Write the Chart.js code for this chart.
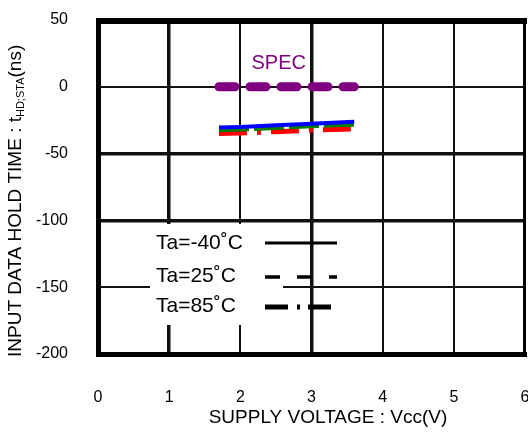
<!DOCTYPE html>
<html>
<head>
<meta charset="utf-8">
<script src="https://cdn.jsdelivr.net/npm/chart.js@4"></script>
<style>
  html, body { margin: 0; padding: 0; background: #fff; }
</style>
</head>
<body>
<canvas id="holdChart" width="528" height="434"></canvas>
<script>
// Podaci ocitani sa slike
const vcc = [1.7, 2.0, 2.5, 3.0, 3.3, 3.6];
const holdMinus40 = [-30.5, -30, -28.8, -27.6, -27, -26.2];
const hold25 = [-32.5, -32, -30.8, -29.6, -28.8, -28.4];
const hold85 = [-35, -34.6, -33.6, -32.4, -32, -31.6];
const specVcc = [1.7, 3.6];
const specLimit = [0, 0];
const xTicks = [0, 1, 2, 3, 4, 5, 6];
const yTicks = [50, 0, -50, -100, -150, -200];
const legendLabels = ["Ta=-40\u02DAC", "Ta=25\u02DAC", "Ta=85\u02DAC"];

const FONT = "'Liberation Sans', Arial, sans-serif";

function toPoints(xs, ys) {
  return xs.map((x, i) => ({ x: x, y: ys[i] }));
}

// Okvir, legenda, naslovi osi i SPEC oznaka
const decorPlugin = {
  id: "decor",
  beforeDatasetsDraw(chart) {
    const ctx = chart.ctx;
    const a = chart.chartArea;
    ctx.save();
    // bijela podloga legende preko mreze
    ctx.fillStyle = "#fff";
    ctx.fillRect(150, 224, 133, 101);
    // okvir
    ctx.fillStyle = "#000";
    ctx.fillRect(a.left - 2, a.top - 2, 5, a.bottom - a.top + 5);
    ctx.fillRect(a.left - 2, a.top - 2, a.right - a.left + 4, 6);
    ctx.fillRect(a.left - 2, a.bottom - 2, a.right - a.left + 4, 5);
    ctx.fillRect(a.right - 2, a.top - 2, 3, a.bottom - a.top + 5);
    ctx.restore();
  },
  afterDatasetsDraw(chart) {
    const ctx = chart.ctx;
    const xs = chart.scales.x;
    const ys = chart.scales.y;
    ctx.save();

    // SPEC
    ctx.fillStyle = "#800080";
    ctx.font = "20px " + FONT;
    ctx.textAlign = "center";
    ctx.textBaseline = "middle";
    ctx.fillText("SPEC", xs.getPixelForValue(2.54), ys.getPixelForValue(0) - 23);

    // legenda
    ctx.fillStyle = "#000";
    ctx.font = "21px " + FONT;
    ctx.textAlign = "left";
    const rowsY = [243, 276, 306];
    legendLabels.forEach((t, i) => ctx.fillText(t, 156, rowsY[i]));
    const samples = [
      { y: 243, w: 3, dash: [], x2: 337 },
      { y: 277, w: 3.5, dash: [15, 17], x2: 337 },
      { y: 307, w: 5, dash: [23, 9, 3, 8], x2: 332 },
    ];
    ctx.strokeStyle = "#000";
    samples.forEach((s) => {
      ctx.lineWidth = s.w;
      ctx.setLineDash(s.dash);
      ctx.beginPath();
      ctx.moveTo(265, s.y);
      ctx.lineTo(s.x2, s.y);
      ctx.stroke();
    });
    ctx.setLineDash([]);

    // naslov x osi
    ctx.font = "19px " + FONT;
    ctx.textAlign = "center";
    ctx.fillText("SUPPLY VOLTAGE : Vcc(V)", 328, 418);

    // naslov y osi s indeksom
    ctx.translate(16, 357);
    ctx.rotate(-Math.PI / 2);
    ctx.textAlign = "left";
    ctx.font = "19px " + FONT;
    const main = "INPUT DATA HOLD TIME : t";
    ctx.fillText(main, 0, 0);
    let off = ctx.measureText(main).width;
    ctx.font = "11px " + FONT;
    ctx.fillText("HD;STA", off, 5);
    off += ctx.measureText("HD;STA").width;
    ctx.font = "19px " + FONT;
    ctx.fillText("(ns)", off, 0);
    ctx.restore();
  },
};

const ctx = document.getElementById("holdChart").getContext("2d");
const holdChart = new Chart(ctx, {
  type: "line",
  data: {
    datasets: [
      {
        label: legendLabels[0],
        data: toPoints(vcc, holdMinus40),
        borderColor: "#0000ff",
        borderWidth: 4,
        pointRadius: 0,
      },
      {
        label: legendLabels[1],
        data: toPoints(vcc, hold25),
        borderColor: "#008000",
        borderWidth: 4,
        borderDash: [30, 5],
        pointRadius: 0,
      },
      {
        label: legendLabels[2],
        data: toPoints(vcc, hold85),
        borderColor: "#ff0000",
        borderWidth: 5,
        borderDash: [28, 10, 4, 10],
        pointRadius: 0,
      },
      {
        label: "SPEC",
        data: toPoints(specVcc, specLimit),
        borderColor: "#800080",
        borderWidth: 9,
        borderDash: [16, 15],
        borderCapStyle: "round",
        pointRadius: 0,
      },
    ],
  },
  options: {
    responsive: false,
    devicePixelRatio: 1,
    animation: false,
    layout: { padding: { top: 20, right: 3, left: 0, bottom: 0 } },
    plugins: { legend: { display: false }, tooltip: { enabled: false } },
    scales: {
      x: {
        type: "linear",
        min: 0,
        max: 6,
        afterBuildTicks: (s) => { s.ticks = xTicks.map((v) => ({ value: v })); },
        afterFit: (s) => { s.height = 80; s.paddingLeft = 0; s.paddingRight = 0; },
        border: { display: false },
        grid: {
          drawTicks: false,
          color: "#111",
          lineWidth: (c) => (c.tick && (c.tick.value === 1 || c.tick.value === 3) ? 3.5 : 2),
        },
        ticks: { padding: 34, color: "#000", font: { family: FONT, size: 16 }, maxRotation: 0 },
      },
      y: {
        type: "linear",
        min: -200,
        max: 50,
        afterBuildTicks: (s) => { s.ticks = yTicks.map((v) => ({ value: v })); },
        afterFit: (s) => { s.width = 98; s.paddingTop = 0; s.paddingBottom = 0; },
        border: { display: false },
        grid: {
          drawTicks: false,
          color: "#111",
          lineWidth: (c) => (c.tick && (c.tick.value === -50 || c.tick.value === -100) ? 3.5 : 2),
        },
        ticks: { padding: 30, color: "#000", font: { family: FONT, size: 16 } },
      },
    },
  },
  plugins: [decorPlugin],
});
</script>
</body>
</html>
